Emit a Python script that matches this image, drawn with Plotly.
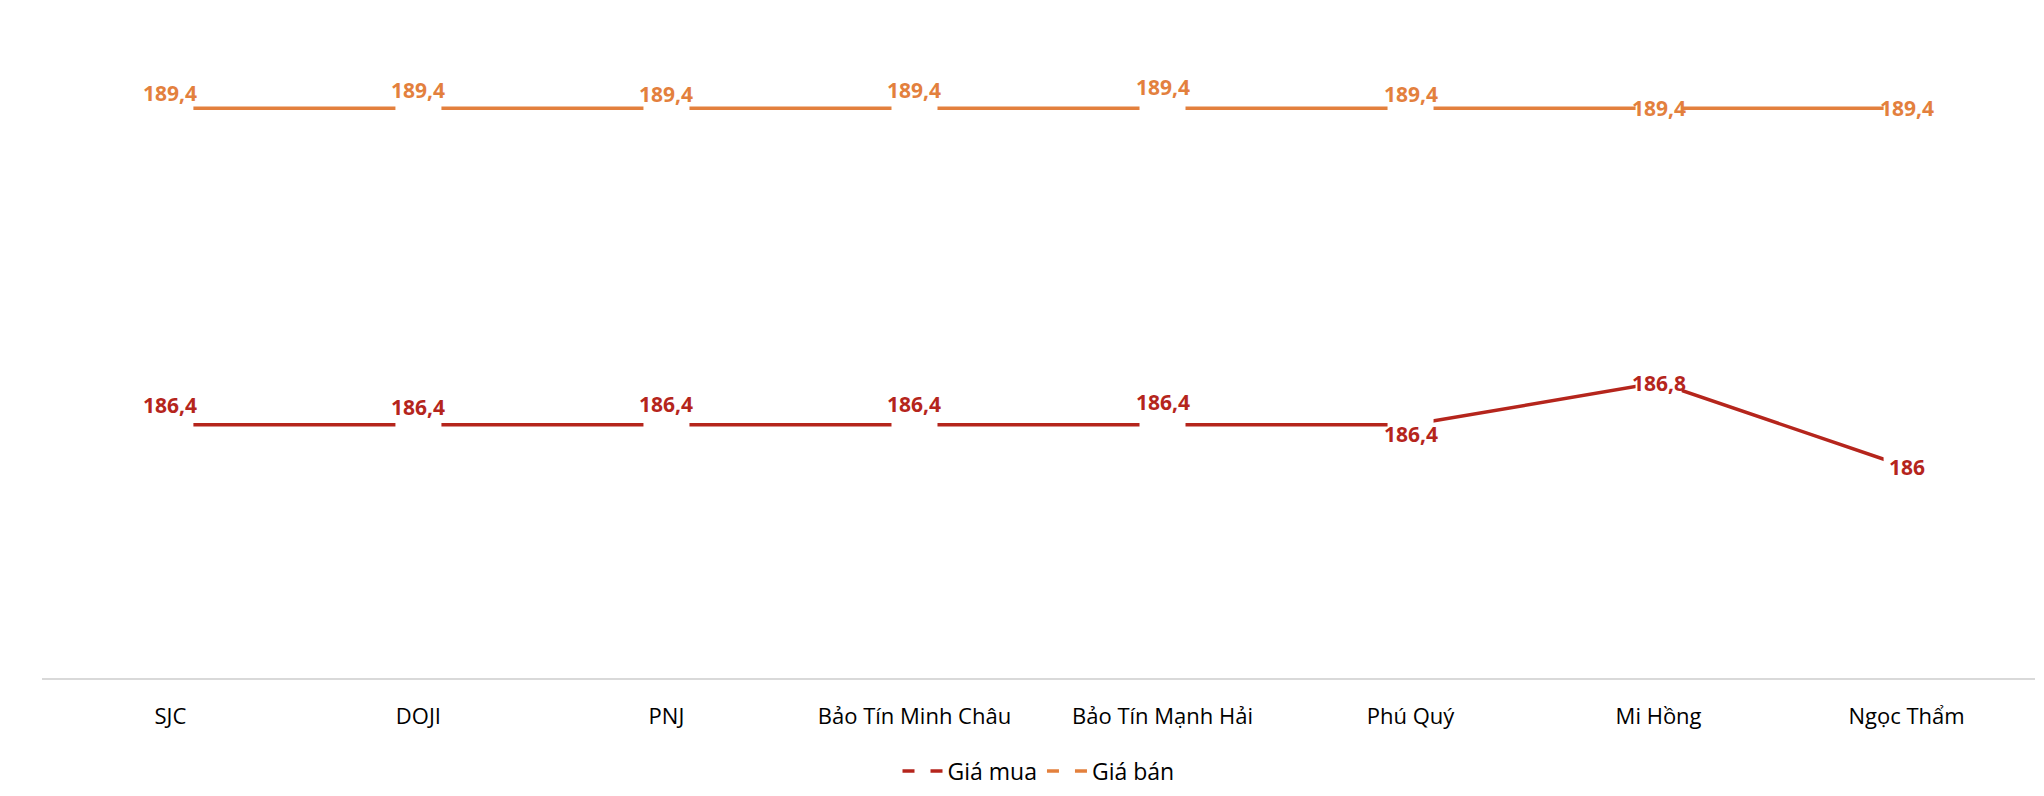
import plotly.graph_objects as go

# gold bar prices (million VND / tael) by dealer
dealers = ["SJC", "DOJI", "PNJ", "Bảo Tín Minh Châu", "Bảo Tín Mạnh Hải",
           "Phú Quý", "Mi Hồng", "Ngọc Thẩm"]
gia_mua = [186.4, 186.4, 186.4, 186.4, 186.4, 186.4, 186.8, 186.0]
gia_ban = [189.4, 189.4, 189.4, 189.4, 189.4, 189.4, 189.4, 189.4]

RED = "#B5251C"
ORANGE = "#E3803D"
FONT = "Open Sans"

# vertical nudge of each data label (pixels, positive = up), like the hand-placed labels in the original
shift_mua = [20, 18, 21, 21, 23, -9, 0, 0]
shift_ban = [15, 18, 14, 18, 21, 14, 0, 0]


def label(v):
    # vietnamese decimal comma
    return f"{v:g}".replace(".", ",")


fig = go.Figure()

for name, values, color in [("Giá mua", gia_mua, RED), ("Giá bán", gia_ban, ORANGE)]:
    # white square markers cut the line around each point, as the label boxes do in the original
    fig.add_trace(go.Scatter(x=dealers, y=values, name=name, mode="lines+markers",
                             line=dict(color=color, width=3.5),
                             marker=dict(symbol="square", size=46, color="white"),
                             hoverinfo="skip"))

annotations = []
for values, shifts, color in [(gia_mua, shift_mua, RED), (gia_ban, shift_ban, ORANGE)]:
    for d, v, s in zip(dealers, values, shifts):
        annotations.append(dict(x=d, y=v, text=label(v), showarrow=False, yshift=s,
                                font=dict(family=FONT, size=21, color=color, weight="bold")))

fig.update_layout(
    width=2044, height=796,
    margin=dict(l=34, r=17, t=37, b=118),
    paper_bgcolor="white", plot_bgcolor="white",
    showlegend=True,
    legend=dict(orientation="h", x=0.5, xanchor="center", y=-0.147, yanchor="middle",
                font=dict(family=FONT, size=23, color="black"), itemwidth=40),
    annotations=annotations,
    font=dict(family=FONT),
)
fig.update_xaxes(showline=True, linecolor="#D9D9D9", linewidth=2, showgrid=False,
                 ticks="", tickfont=dict(family=FONT, size=22, color="black"),
                 ticklabelstandoff=18)
fig.update_yaxes(range=[184, 190], visible=False, showgrid=False, zeroline=False)

fig.write_html("out.html")
